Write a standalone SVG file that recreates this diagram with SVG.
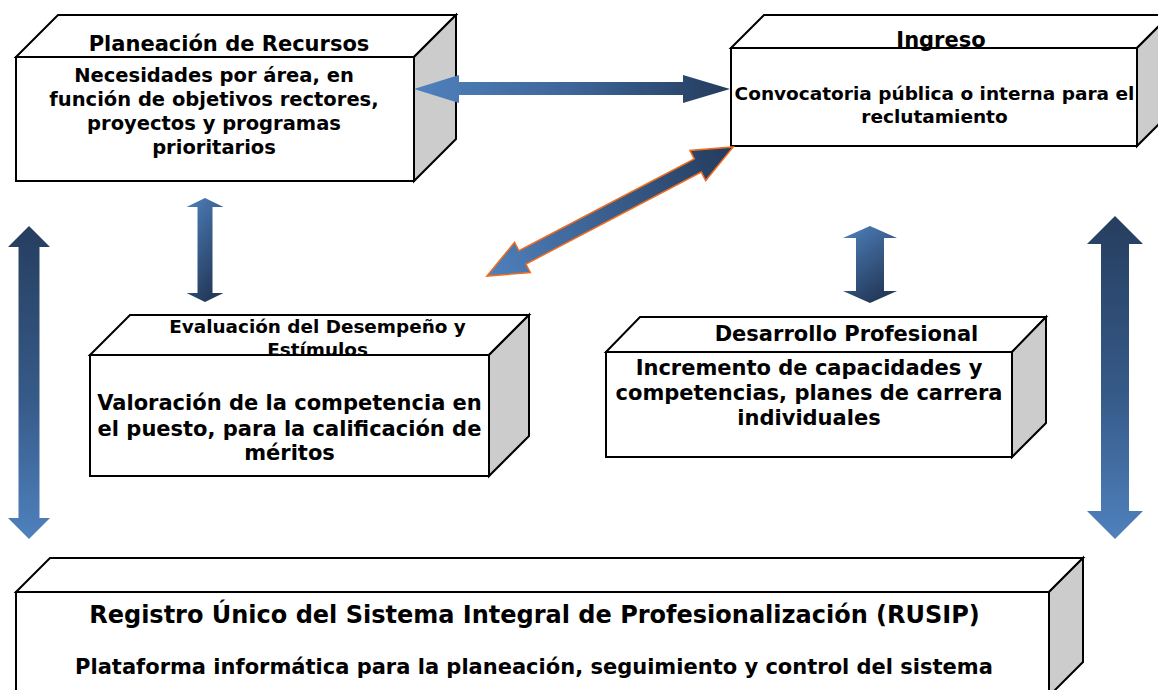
<svg xmlns="http://www.w3.org/2000/svg" width="1158" height="690" viewBox="0 0 1158 690">
<style>
.front{fill:#ffffff;stroke:#000000;stroke-width:2;stroke-linejoin:miter}
.top{fill:#ffffff;stroke:#000000;stroke-width:2}
.side{fill:#cccccc;stroke:#000000;stroke-width:2}
text{font-family:"DejaVu Sans",Verdana,"Liberation Sans",sans-serif;font-weight:bold;fill:#000000;text-anchor:middle}
.arrow{stroke:none}
.orange{stroke:#f26b1d;stroke-width:1.5}
</style>
<defs>
<linearGradient id="gA" x1="414" y1="0" x2="730" y2="0" gradientUnits="userSpaceOnUse">
<stop offset="0" stop-color="#4f81bd"/><stop offset="0.5" stop-color="#3e6598"/><stop offset="1" stop-color="#243b5c"/>
</linearGradient>
<linearGradient id="gB" x1="0" y1="0" x2="278" y2="0" gradientUnits="userSpaceOnUse">
<stop offset="0" stop-color="#4f81bd"/><stop offset="1" stop-color="#243b5c"/>
</linearGradient>
<linearGradient id="gDown" x1="0" y1="0" x2="0.5" y2="1">
<stop offset="0" stop-color="#4f81bd"/><stop offset="1" stop-color="#243b5c"/>
</linearGradient>
<linearGradient id="gUp" x1="0" y1="0" x2="0" y2="1">
<stop offset="0" stop-color="#263e5f"/><stop offset="0.55" stop-color="#365a88"/><stop offset="1" stop-color="#4f81bd"/>
</linearGradient>
</defs>

<g id="node-planeacion">
<polygon class="top" points="16,57 58,15 456,15 414,57"/>
<polygon class="side" points="414,57 456,15 456,139 414,181"/>
<rect class="front" x="16" y="57" width="398" height="124"/>
<text x="229" y="51" font-size="21">Planeación de Recursos</text>
<text x="214" y="82" font-size="19.5">Necesidades por área, en</text>
<text x="214" y="106" font-size="19.5">función de objetivos rectores,</text>
<text x="214" y="130" font-size="19.5">proyectos y programas</text>
<text x="214" y="154" font-size="19.5">prioritarios</text>
</g>

<g id="node-ingreso">
<polygon class="top" points="731,48 764,15 1170,15 1137,48"/>
<polygon class="side" points="1137,48 1170,15 1170,113 1137,146"/>
<rect class="front" x="731" y="48" width="406" height="98"/>
<text x="941" y="47" font-size="21">Ingreso</text>
<text x="934.5" y="100" font-size="18.5">Convocatoria pública o interna para el</text>
<text x="934.5" y="123" font-size="18.5">reclutamiento</text>
</g>

<g id="node-evaluacion">
<polygon class="top" points="90,355 130,315 529,315 489,355"/>
<polygon class="side" points="489,355 529,315 529,436 489,476"/>
<rect class="front" x="90" y="355" width="399" height="121"/>
<text x="317.5" y="333" font-size="18.4">Evaluación del Desempeño y</text>
<text x="317.5" y="356" font-size="18.4">Estímulos</text>
<text x="289.5" y="410" font-size="21">Valoración de la competencia en</text>
<text x="289.5" y="436" font-size="21">el puesto, para la calificación de</text>
<text x="289.5" y="460" font-size="21">méritos</text>
</g>

<g id="node-desarrollo">
<polygon class="top" points="606,352 640,317 1046,317 1012,352"/>
<polygon class="side" points="1012,352 1046,317 1046,423 1012,457"/>
<rect class="front" x="606" y="352" width="406" height="105"/>
<text x="846.5" y="341" font-size="21">Desarrollo Profesional</text>
<text x="809" y="375" font-size="21">Incremento de capacidades y</text>
<text x="809" y="400" font-size="21">competencias, planes de carrera</text>
<text x="809" y="425" font-size="21">individuales</text>
</g>

<g id="node-rusip">
<polygon class="top" points="16,592 50,558 1083,558 1049,592"/>
<polygon class="side" points="1049,592 1083,558 1083,662 1049,696"/>
<rect class="front" x="16" y="592" width="1033" height="120"/>
<text x="534.5" y="623" font-size="24">Registro Único del Sistema Integral de Profesionalización (RUSIP)</text>
<text x="534" y="674" font-size="21">Plataforma informática para la planeación, seguimiento y control del sistema</text>
</g>

<g id="connectors">
<polygon class="arrow" fill="url(#gA)" points="414,89 459,75 459,82 683,82 683,75 730,89 683,103 683,95 459,95 459,103"/>
<polygon class="orange" fill="url(#gB)" transform="translate(487,276) rotate(-27.67)" points="0,0 40,-17 40,-7.5 238,-7.5 238,-17 278,0 238,17 238,7.5 40,7.5 40,17"/>
<polygon class="arrow" fill="url(#gDown)" points="205,198 223.5,207 212.5,207 212.5,293 223.5,293 205,302 186.5,293 197.5,293 197.5,207 186.5,207"/>
<polygon class="arrow" fill="url(#gUp)" points="29,226 50,247 39.5,247 39.5,518 50,518 29,539 8,518 18.5,518 18.5,247 8,247"/>
<polygon class="arrow" fill="url(#gDown)" points="870,226 897,238 884,238 884,291 897,291 870,303 843,291 856,291 856,238 843,238"/>
<polygon class="arrow" fill="url(#gUp)" points="1115,216 1143,244 1129,244 1129,511 1143,511 1115,539 1087,511 1101,511 1101,244 1087,244"/>
</g>
</svg>
